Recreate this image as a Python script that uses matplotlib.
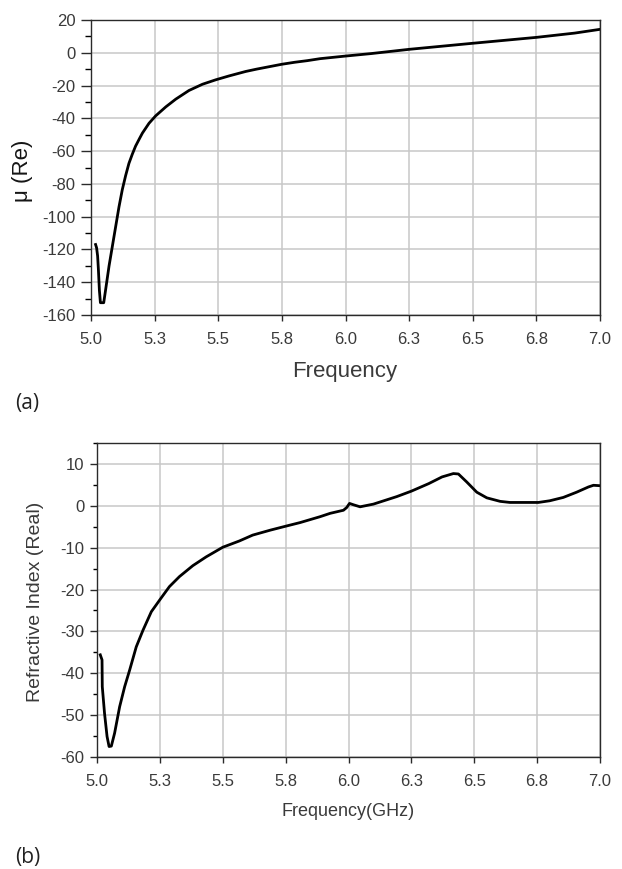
import numpy as np
import matplotlib
matplotlib.use('Agg')
import matplotlib.pyplot as plt
from matplotlib.ticker import MultipleLocator

# panel (a): real part of permeability
freq_a = [5.018, 5.022, 5.026, 5.029, 5.033, 5.037, 5.050, 5.058, 5.071, 5.084,
          5.097, 5.110, 5.123, 5.136, 5.149, 5.162, 5.175, 5.190, 5.202, 5.228,
          5.254, 5.294, 5.333, 5.385, 5.438, 5.490, 5.543, 5.608, 5.650, 5.700,
          5.750, 5.800, 5.850, 5.900, 6.000, 6.100, 6.250, 6.500, 6.750, 6.900,
          7.000]
mu_re = [-117, -119, -124, -132, -145, -152.5, -152.5, -144, -130, -118,
         -106, -94, -83.5, -75, -67.5, -62, -57, -52.5, -49, -43,
         -38.5, -33, -28.3, -23, -19.2, -16.5, -14.1, -11.4, -10, -8.5,
         -7, -5.8, -4.8, -3.6, -2.0, -0.5, 2.1, 5.8, 9.4, 12,
         14.3]

# panel (b): real part of refractive index
freq_b = [5.013, 5.020, 5.021, 5.030, 5.040, 5.048, 5.057, 5.070, 5.090, 5.110,
          5.130, 5.156, 5.183, 5.216, 5.254, 5.288, 5.328, 5.381, 5.434, 5.500,
          5.566, 5.619, 5.690, 5.755, 5.808, 5.887, 5.927, 5.980, 5.993, 6.004,
          6.020, 6.046, 6.099, 6.192, 6.250, 6.319, 6.372, 6.417, 6.437, 6.470,
          6.510, 6.550, 6.603, 6.642, 6.755, 6.800, 6.854, 6.907, 6.954, 6.974,
          7.000]
n_re = [-35.6, -36.8, -43.2, -49.6, -55.1, -57.5, -57.4, -54.3, -48, -43.2,
        -39.2, -33.7, -29.7, -25.3, -22.1, -19.3, -16.9, -14.3, -12.2, -9.9,
        -8.4, -7.0, -5.8, -4.8, -4.0, -2.6, -1.8, -1.06, -0.4, 0.57,
        0.24, -0.24, 0.4, 2.2, 3.5, 5.3, 6.9, 7.7, 7.6, 5.7,
        3.25, 1.9, 1.06, 0.8, 0.8, 1.2, 2.0, 3.25, 4.5, 4.9,
        4.8]

xtick_vals = [5.0, 5.25, 5.5, 5.75, 6.0, 6.25, 6.5, 6.75, 7.0]
xtick_labels = ['5.0', '5.3', '5.5', '5.8', '6.0', '6.3', '6.5', '6.8', '7.0']

plt.rcParams['font.family'] = ['Liberation Sans', 'DejaVu Sans']
plt.rcParams['axes.unicode_minus'] = False

W, H = 622, 869
fig = plt.figure(figsize=(W / 100, H / 100), dpi=100)

txt_col = '#3a3a3a'
spine_col = '#2a2a2a'
grid_col = '#c8c8c8'


def px_axes(l, t, r, b):
    return fig.add_axes([l / W, 1 - b / H, (r - l) / W, (b - t) / H])


def style(ax, major_len, minor_len):
    ax.set_xlim(5.0, 7.0)
    ax.set_xticks(xtick_vals)
    ax.set_xticklabels(xtick_labels)
    ax.grid(True, color=grid_col, lw=1.1)
    ax.set_axisbelow(True)
    for s in ax.spines.values():
        s.set_color(spine_col)
        s.set_linewidth(1.0)
    ax.tick_params(axis='both', colors=spine_col, labelcolor=txt_col,
                   labelsize=12, direction='out', width=1.0)
    ax.tick_params(axis='y', which='major', length=major_len, pad=4)
    ax.tick_params(axis='y', which='minor', length=minor_len, width=1.0)
    ax.tick_params(axis='x', which='major', length=4, pad=8)
    ax.tick_params(axis='x', which='minor', bottom=False)


# ---- (a)
ax1 = px_axes(91, 20, 600, 315)
ax1.plot(freq_a, mu_re, color='black', lw=2.0)
ax1.set_ylim(-160, 20)
ax1.yaxis.set_major_locator(MultipleLocator(20))
ax1.yaxis.set_minor_locator(MultipleLocator(10))
style(ax1, 7, 4)
ax1.set_xlabel('Frequency', fontsize=16, color=txt_col)
ax1.xaxis.set_label_coords(0.499, -0.193)
ax1.xaxis.label.set_va('center')
ax1.set_ylabel('μ (Re)', fontsize=16, color='#151515')
ax1.yaxis.set_label_coords(-0.134, 0.49)
ax1.yaxis.label.set_va('center')

# ---- (b)
ax2 = px_axes(97, 443, 600, 757)
ax2.plot(freq_b, n_re, color='black', lw=2.0)
ax2.set_ylim(-60, 15)
ax2.yaxis.set_major_locator(MultipleLocator(10))
ax2.yaxis.set_minor_locator(MultipleLocator(5))
style(ax2, 5, 3)
ax2.set_xlabel('Frequency(GHz)', fontsize=13, color=txt_col)
ax2.xaxis.set_label_coords(0.499, -0.174)
ax2.xaxis.label.set_va('center')
ax2.set_ylabel('Refractive Index (Real)', fontsize=14, color=txt_col)
ax2.yaxis.set_label_coords(-0.123, 0.494)
ax2.yaxis.label.set_va('center')

fig.text(15 / W, 1 - 403 / H, '(a)', fontsize=15, family='Open Sans',
         ha='left', va='center', color='#222222')
fig.text(15 / W, 1 - 857 / H, '(b)', fontsize=15, family='Open Sans',
         ha='left', va='center', color='#222222')

fig.savefig('out.png', dpi=100)
